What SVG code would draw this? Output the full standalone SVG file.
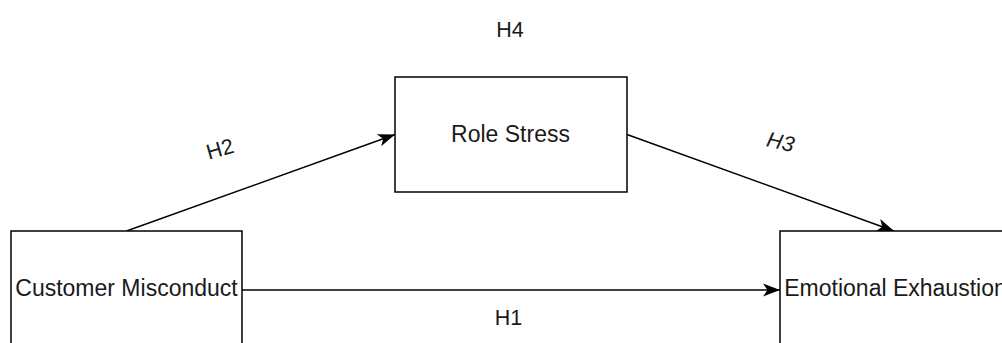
<svg xmlns="http://www.w3.org/2000/svg" width="1002" height="343" viewBox="0 0 1002 343">
  <style>
    .box { fill: #ffffff; stroke: #000000; stroke-width: 1.5; }
    .lbl { font-family: "Liberation Sans", Arial, sans-serif; font-size: 23px; fill: #1a1a1a; text-anchor: middle; }
    .h { font-family: "Liberation Sans", Arial, sans-serif; font-size: 21.5px; fill: #1a1a1a; text-anchor: middle; }
    .edge { fill: none; stroke: #000000; stroke-width: 1.5; }
  </style>
  <defs>
    <marker id="arrow" markerUnits="userSpaceOnUse" viewBox="-18 -7 20 14" refX="0" refY="0" markerWidth="20" markerHeight="14" orient="auto">
      <path d="M0,0 L-17,-6.5 L-12.5,0 L-17,6.5 Z" fill="#000000"/>
    </marker>
  </defs>
  <rect width="1002" height="343" fill="#ffffff"/>
  <g id="connectors">
    <line class="edge" x1="126.5" y1="231" x2="395" y2="134.5" marker-end="url(#arrow)"/>
    <line class="edge" x1="627" y1="134.5" x2="894" y2="231" marker-end="url(#arrow)"/>
    <line class="edge" x1="242" y1="290" x2="780" y2="290" marker-end="url(#arrow)"/>
  </g>
  <g id="node-role-stress">
    <rect class="box" x="395" y="77" width="232" height="115"/>
    <text class="lbl" x="510.5" y="142">Role Stress</text>
  </g>
  <g id="node-customer-misconduct">
    <rect class="box" x="11" y="231" width="231" height="115"/>
    <text class="lbl" x="126.5" y="296">Customer Misconduct</text>
  </g>
  <g id="node-emotional-exhaustion">
    <rect class="box" x="780" y="231" width="231" height="115"/>
    <text class="lbl" x="895.5" y="296">Emotional Exhaustion</text>
  </g>
  <g id="labels">
    <text class="h" x="510" y="36.5">H4</text>
    <text class="h" x="508.5" y="325">H1</text>
    <text class="h" transform="translate(222,156) rotate(-16)">H2</text>
    <text class="h" font-style="italic" transform="translate(779,149) rotate(13)">H3</text>
  </g>
</svg>
